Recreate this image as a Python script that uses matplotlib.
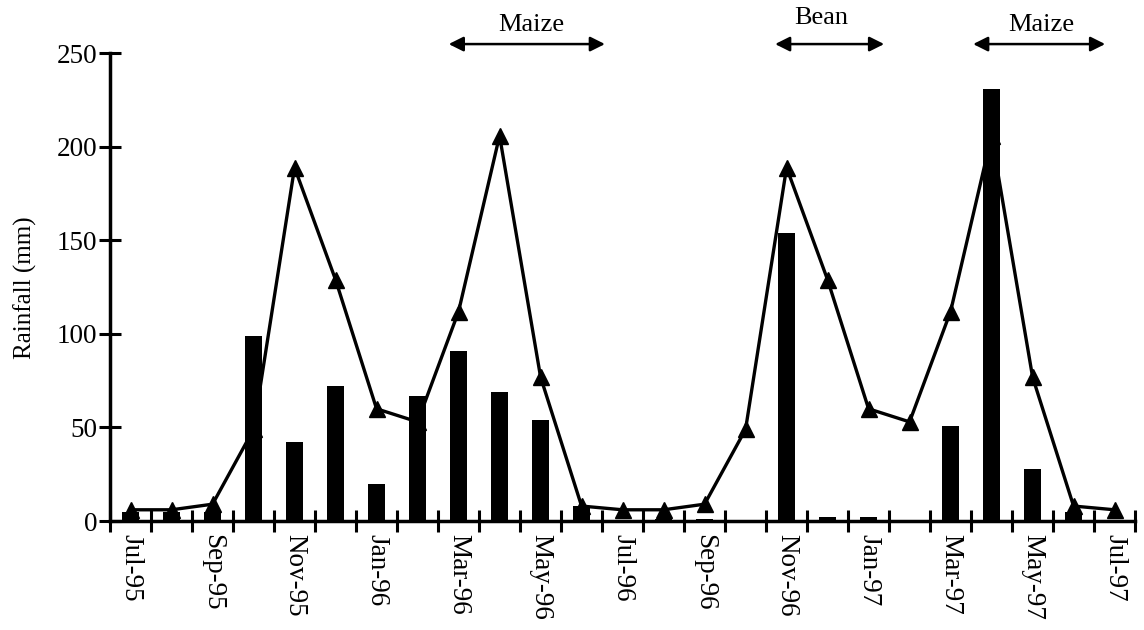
import matplotlib
matplotlib.use("Agg")
import matplotlib.pyplot as plt
import numpy as np

months = ["Jul-95", "Aug-95", "Sep-95", "Oct-95", "Nov-95", "Dec-95", "Jan-96", "Feb-96",
          "Mar-96", "Apr-96", "May-96", "Jun-96", "Jul-96", "Aug-96", "Sep-96", "Oct-96",
          "Nov-96", "Dec-96", "Jan-97", "Feb-97", "Mar-97", "Apr-97", "May-97", "Jun-97", "Jul-97"]
rainfall = [5, 5, 5, 99, 42, 72, 20, 67, 91, 69, 54, 8, 0, 1, 1, 0,
            154, 2, 2, 0, 51, 231, 28, 5, 0]
long_term = [6, 6, 9, 49, 189, 129, 60, 53, 112, 206, 77, 8, 6, 6, 9, 49,
             189, 129, 60, 53, 112, 206, 77, 8, 6]
crops = ["Maize", "Bean", "Maize"]
crop_spans = [(7.76, 11.57), (15.72, 18.38), (20.55, 23.77)]
crop_text_x = [9.77, 16.84, 22.21]
crop_text_y = [265, 269, 265]

plt.rcParams['font.family'] = ['Liberation Serif', 'DejaVu Serif']

fig = plt.figure(figsize=(11.44, 6.30), dpi=100)
ax = fig.add_axes([0.0962, 0.173, 0.8960, 0.7422])

x = np.arange(len(months))
ax.bar(x, rainfall, width=0.43, color='black', zorder=2)
ax.plot(x, long_term, color='black', lw=2.4, marker='^', markersize=11, zorder=3)

ax.set_xlim(-0.5, len(months) - 0.5)
ax.set_ylim(0, 250)
ax.set_yticks([0, 50, 100, 150, 200, 250])
ax.set_xticks(np.arange(-0.5, len(months), 1.0))
ax.set_xticklabels([])
ax.set_xticks(x[::2], minor=True)
ax.set_xticklabels(months[::2], minor=True, rotation=270, fontsize=19.5)
ax.tick_params(axis='x', which='minor', length=0, pad=9)
ax.tick_params(axis='x', which='major', direction='inout', length=16, width=2.2)
ax.tick_params(axis='y', direction='inout', length=16, width=2.2, labelsize=19.5, pad=1)

for s in ['top', 'right']:
    ax.spines[s].set_visible(False)
for s in ['left', 'bottom']:
    ax.spines[s].set_linewidth(2.5)

ax.set_ylabel("Rainfall (mm)", fontsize=18, labelpad=14)

for name, (a, b), tx, ty in zip(crops, crop_spans, crop_text_x, crop_text_y):
    ax.annotate("", xy=(a, 255), xytext=(b, 255), annotation_clip=False,
                arrowprops=dict(arrowstyle='<|-|>', color='black', lw=1.8,
                                mutation_scale=22, shrinkA=0, shrinkB=0))
    ax.text(tx, ty, name, ha='center', va='center', fontsize=19, clip_on=False)

fig.savefig("out.png", dpi=100)
